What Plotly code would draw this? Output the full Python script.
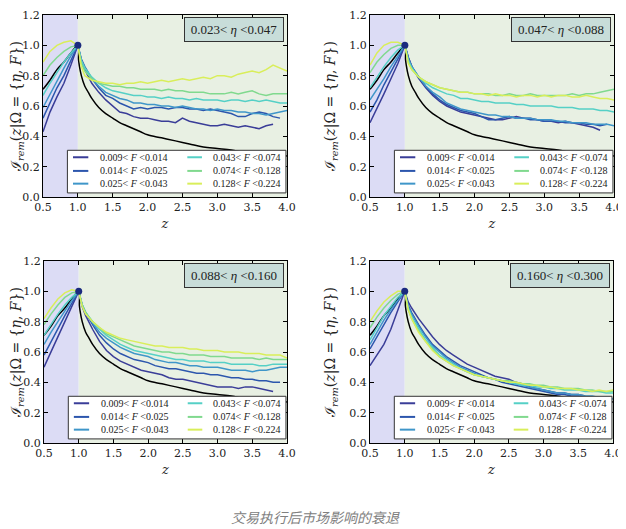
import plotly.graph_objects as go

# ---------------- data ----------------
Z = [0.5, 0.6, 0.7, 0.8, 0.9, 1.0, 1.05, 1.1, 1.2, 1.3, 1.4, 1.5, 1.6, 1.7, 1.8, 1.9,
     2.0, 2.1, 2.2, 2.3, 2.4, 2.5, 2.6, 2.7, 2.8, 2.9, 3.0, 3.1, 3.2, 3.3, 3.4, 3.5,
     3.6, 3.7, 3.8, 3.9, 4.0]

F_LABELS = ["0.009&lt; <i>F</i> &lt;0.014", "0.014&lt; <i>F</i> &lt;0.025",
            "0.025&lt; <i>F</i> &lt;0.043", "0.043&lt; <i>F</i> &lt;0.074",
            "0.074&lt; <i>F</i> &lt;0.128", "0.128&lt; <i>F</i> &lt;0.224"]
ETA_LABELS = ["0.023&lt; <i>η</i> &lt;0.047", "0.047&lt; <i>η</i> &lt;0.088",
              "0.088&lt; <i>η</i> &lt;0.160", "0.160&lt; <i>η</i> &lt;0.300"]

BLACK_Z = [0.5, 0.6, 0.7, 0.8, 0.9, 1.0, 1.01, 1.02, 1.05, 1.1, 1.15, 1.2, 1.3, 1.4, 1.5,
           1.6, 1.7, 1.8, 1.9, 2.0, 2.2, 2.4, 2.6, 2.8, 3.0, 3.2, 3.4, 3.6, 3.8, 4.0]
BLACK_I = [0.71, 0.77, 0.84, 0.89, 0.95, 1.0, 0.905, 0.87, 0.80, 0.73, 0.69, 0.65, 0.59, 0.55, 0.52,
           0.49, 0.47, 0.45, 0.43, 0.41, 0.39, 0.37, 0.35, 0.33, 0.32, 0.31, 0.29, 0.28, 0.28, 0.27]

# panel 1: 0.023 < eta < 0.047
P1_F1 = [0.43, 0.56, 0.66, 0.75, 0.87, 1.0, 0.90, 0.84, 0.75, 0.69, 0.64, 0.60, 0.56, 0.55, 0.53, 0.52,
         0.52, 0.51, 0.50, 0.50, 0.49, 0.52, 0.50, 0.49, 0.48, 0.47, 0.47, 0.48, 0.47, 0.46, 0.47, 0.46,
         0.45, 0.47, 0.48, None, None]
P1_F2 = [0.52, 0.62, 0.72, 0.80, 0.90, 1.0, 0.91, 0.86, 0.78, 0.72, 0.67, 0.65, 0.62, 0.60, 0.58, 0.59,
         0.58, 0.59, 0.59, 0.58, 0.59, 0.59, 0.58, 0.58, 0.57, 0.58, 0.57, 0.56, 0.55, 0.53, 0.53, 0.55,
         0.56, 0.55, 0.53, 0.52, None]
P1_F3 = [0.59, 0.68, 0.77, 0.85, 0.93, 1.0, 0.90, 0.85, 0.78, 0.73, 0.69, 0.67, 0.65, 0.64, 0.62, 0.62,
         0.61, 0.61, 0.60, 0.60, 0.59, 0.60, 0.59, 0.58, 0.58, 0.57, 0.58, 0.57, 0.57, 0.56, 0.56, 0.55,
         0.55, 0.54, 0.55, 0.56, 0.57]
P1_F4 = [0.67, 0.75, 0.82, 0.89, 0.95, 1.0, 0.90, 0.85, 0.79, 0.75, 0.72, 0.70, 0.69, 0.68, 0.67, 0.67,
         0.66, 0.66, 0.65, 0.66, 0.65, 0.65, 0.64, 0.65, 0.64, 0.64, 0.64, 0.63, 0.64, 0.64, 0.63, 0.64,
         0.63, 0.64, 0.63, 0.62, 0.62]
P1_F5 = [0.80, 0.87, 0.92, 0.96, 0.99, 1.0, 0.88, 0.83, 0.78, 0.75, 0.74, 0.73, 0.73, 0.72, 0.72, 0.71,
         0.71, 0.71, 0.70, 0.71, 0.70, 0.70, 0.69, 0.69, 0.69, 0.68, 0.68, 0.68, 0.69, 0.68, 0.69, 0.70,
         0.68, 0.67, 0.68, 0.68, 0.68]
P1_F6 = [0.89, 0.96, 1.00, 1.02, 1.03, 1.0, 0.86, 0.80, 0.77, 0.76, 0.75, 0.75, 0.74, 0.75, 0.75, 0.76,
         0.75, 0.76, 0.77, 0.76, 0.77, 0.78, 0.77, 0.78, 0.79, 0.78, 0.80, 0.80, 0.79, 0.81, 0.82, 0.83,
         0.82, 0.84, 0.87, 0.85, 0.83]

# panel 2: 0.047 < eta < 0.088
P2_F1 = [0.49, 0.58, 0.68, 0.78, 0.88, 1.0, 0.92, 0.86, 0.78, 0.72, 0.67, 0.63, 0.60, 0.58, 0.56, 0.55,
         0.54, 0.53, 0.52, 0.51, 0.51, 0.52, 0.53, 0.52, 0.52, 0.51, 0.50, 0.50, 0.49, 0.50, 0.49, 0.48,
         0.47, 0.46, 0.44, None, None]
P2_F2 = [0.56, 0.64, 0.74, 0.82, 0.91, 1.0, 0.92, 0.86, 0.79, 0.73, 0.68, 0.64, 0.61, 0.59, 0.57, 0.56,
         0.55, 0.53, 0.51, 0.51, 0.52, 0.53, 0.52, 0.52, 0.51, 0.51, 0.50, 0.50, 0.50, 0.49, 0.49, 0.49,
         0.48, 0.48, 0.47, 0.48, None]
P2_F3 = [0.64, 0.71, 0.78, 0.86, 0.93, 1.0, 0.91, 0.86, 0.79, 0.73, 0.69, 0.66, 0.62, 0.60, 0.58, 0.57,
         0.56, 0.55, 0.54, 0.54, 0.53, 0.53, 0.52, 0.52, 0.52, 0.51, 0.51, 0.51, 0.50, 0.50, 0.49, 0.49,
         0.49, 0.48, 0.48, 0.48, 0.47]
P2_F4 = [0.72, 0.79, 0.86, 0.92, 0.97, 1.0, 0.90, 0.85, 0.79, 0.75, 0.72, 0.70, 0.68, 0.67, 0.65, 0.65,
         0.64, 0.63, 0.63, 0.62, 0.62, 0.62, 0.61, 0.61, 0.60, 0.60, 0.60, 0.60, 0.59, 0.59, 0.59, 0.58,
         0.58, 0.58, 0.57, 0.57, 0.56]
P2_F5 = [0.82, 0.89, 0.94, 0.98, 1.00, 1.0, 0.89, 0.84, 0.79, 0.76, 0.74, 0.72, 0.71, 0.70, 0.69, 0.69,
         0.68, 0.68, 0.68, 0.67, 0.67, 0.68, 0.67, 0.67, 0.68, 0.67, 0.67, 0.67, 0.67, 0.67, 0.68, 0.67,
         0.68, 0.68, 0.69, 0.70, 0.71]
P2_F6 = [0.87, 0.95, 1.00, 1.02, 1.02, 1.0, 0.88, 0.84, 0.79, 0.76, 0.74, 0.72, 0.71, 0.70, 0.69, 0.69,
         0.68, 0.68, 0.67, 0.68, 0.67, 0.67, 0.66, 0.67, 0.67, 0.66, 0.67, 0.66, 0.67, 0.67, 0.66, 0.66,
         0.67, 0.66, 0.65, 0.65, 0.64]

# panel 3: 0.088 < eta < 0.160
P3_F1 = [0.50, 0.60, 0.70, 0.80, 0.90, 1.0, 0.90, 0.84, 0.75, 0.67, 0.61, 0.57, 0.54, 0.52, 0.50, 0.48,
         0.47, 0.46, 0.45, 0.43, 0.42, 0.42, 0.41, 0.40, 0.39, 0.38, 0.37, 0.37, 0.37, 0.36, 0.37, 0.37,
         0.36, 0.35, 0.34, None, None]
P3_F2 = [0.58, 0.67, 0.76, 0.84, 0.92, 1.0, 0.91, 0.86, 0.78, 0.71, 0.66, 0.62, 0.59, 0.57, 0.55, 0.54,
         0.53, 0.51, 0.50, 0.49, 0.49, 0.48, 0.47, 0.46, 0.46, 0.45, 0.45, 0.44, 0.43, 0.43, 0.42, 0.42,
         0.41, 0.41, 0.40, 0.40, None]
P3_F3 = [0.65, 0.73, 0.80, 0.87, 0.94, 1.0, 0.91, 0.86, 0.79, 0.73, 0.69, 0.66, 0.63, 0.61, 0.59, 0.58,
         0.57, 0.55, 0.54, 0.53, 0.53, 0.52, 0.51, 0.51, 0.50, 0.50, 0.50, 0.49, 0.48, 0.48, 0.48, 0.47,
         0.48, 0.48, 0.49, 0.50, 0.50]
P3_F4 = [0.71, 0.78, 0.85, 0.91, 0.96, 1.0, 0.91, 0.86, 0.80, 0.75, 0.71, 0.68, 0.65, 0.63, 0.61, 0.60,
         0.59, 0.58, 0.57, 0.56, 0.55, 0.55, 0.54, 0.54, 0.54, 0.53, 0.53, 0.53, 0.52, 0.52, 0.52, 0.52,
         0.51, 0.51, 0.52, 0.52, 0.52]
P3_F5 = [0.78, 0.85, 0.91, 0.96, 0.99, 1.0, 0.91, 0.86, 0.80, 0.76, 0.72, 0.70, 0.68, 0.66, 0.64, 0.63,
         0.62, 0.61, 0.60, 0.60, 0.59, 0.59, 0.58, 0.58, 0.58, 0.57, 0.57, 0.57, 0.56, 0.56, 0.56, 0.56,
         0.55, 0.56, 0.55, 0.55, 0.55]
P3_F6 = [0.82, 0.89, 0.95, 0.99, 1.01, 1.0, 0.90, 0.85, 0.80, 0.76, 0.73, 0.71, 0.69, 0.68, 0.67, 0.66,
         0.65, 0.64, 0.64, 0.63, 0.63, 0.63, 0.62, 0.62, 0.61, 0.61, 0.61, 0.60, 0.60, 0.60, 0.59, 0.59,
         0.59, 0.58, 0.58, 0.58, 0.56]

# panel 4: 0.160 < eta < 0.300
P4_F1 = [0.51, 0.58, 0.65, 0.75, 0.87, 1.0, 0.93, 0.89, 0.82, 0.76, 0.70, 0.65, 0.61, 0.58, 0.55, 0.52,
         0.50, 0.48, 0.46, 0.44, 0.43, 0.42, 0.40, 0.39, 0.37, 0.36, 0.35, 0.34, 0.33, 0.33, 0.32, 0.32,
         0.31, None, None, None, None]
P4_F2 = [0.62, 0.70, 0.78, 0.86, 0.93, 1.0, 0.91, 0.86, 0.78, 0.71, 0.65, 0.61, 0.57, 0.54, 0.51, 0.49,
         0.47, 0.45, 0.43, 0.42, 0.40, 0.39, 0.38, 0.37, 0.36, 0.35, 0.34, 0.33, 0.32, 0.32, 0.31, 0.31,
         0.30, 0.30, 0.29, None, None]
P4_F3 = [0.65, 0.73, 0.81, 0.88, 0.94, 1.0, 0.90, 0.85, 0.77, 0.70, 0.64, 0.60, 0.56, 0.53, 0.50, 0.48,
         0.46, 0.44, 0.43, 0.42, 0.41, 0.40, 0.39, 0.38, 0.37, 0.36, 0.35, 0.34, 0.33, 0.33, 0.32, 0.32,
         0.31, 0.31, 0.30, 0.30, 0.29]
P4_F4 = [0.68, 0.76, 0.84, 0.90, 0.96, 1.0, 0.89, 0.83, 0.75, 0.68, 0.63, 0.58, 0.55, 0.52, 0.49, 0.47,
         0.45, 0.44, 0.43, 0.42, 0.41, 0.40, 0.39, 0.38, 0.38, 0.37, 0.37, 0.36, 0.36, 0.35, 0.35, 0.35,
         0.34, 0.34, 0.34, 0.33, 0.33]
P4_F5 = [0.76, 0.83, 0.89, 0.94, 0.98, 1.0, 0.88, 0.82, 0.74, 0.67, 0.62, 0.57, 0.54, 0.51, 0.49, 0.47,
         0.45, 0.44, 0.43, 0.42, 0.41, 0.41, 0.40, 0.39, 0.39, 0.38, 0.38, 0.37, 0.37, 0.36, 0.36, 0.36,
         0.35, 0.35, 0.34, 0.34, 0.34]
P4_F6 = [0.80, 0.87, 0.93, 0.97, 1.00, 1.0, 0.88, 0.82, 0.73, 0.67, 0.61, 0.57, 0.54, 0.51, 0.49, 0.47,
         0.45, 0.44, 0.43, 0.42, 0.41, 0.40, 0.40, 0.39, 0.38, 0.38, 0.37, 0.37, 0.36, 0.36, 0.36, 0.35,
         0.35, 0.34, 0.35, 0.34, 0.35]

PANELS = [[P1_F1, P1_F2, P1_F3, P1_F4, P1_F5, P1_F6],
          [P2_F1, P2_F2, P2_F3, P2_F4, P2_F5, P2_F6],
          [P3_F1, P3_F2, P3_F3, P3_F4, P3_F5, P3_F6],
          [P4_F1, P4_F2, P4_F3, P4_F4, P4_F5, P4_F6]]

X_TICKS = [0.5, 1.0, 1.5, 2.0, 2.5, 3.0, 3.5, 4.0]
Y_TICKS = [0.0, 0.2, 0.4, 0.6, 0.8, 1.0, 1.2]
PEAK = [1.0, 1.0]   # (z, I) of the execution end point

CAPTION = "交易执行后市场影响的衰退"

for p in PANELS:
    for s in p:
        assert len(s) == len(Z), len(s)

# ---------------- style ----------------
COLORS = ["#3a3d98", "#2c56ad", "#3f96c9", "#55d0c6", "#80d98e", "#d9ee5a"]
PAGE = 8                      # default body margin of the html page
W, H = 626 - PAGE, 529 - PAGE
# plot-area pixel boxes in the window (left, right, top, bottom)
BOXES = [(43, 287, 15, 197), (370, 614, 15, 197), (44, 287, 261, 443), (370, 613, 261, 443)]
SERIF = "DejaVu Serif, Liberation Serif, serif"
LSERIF = "Liberation Serif, serif"

fig = go.Figure()
layout = dict(template="none", width=W, height=H,
              margin=dict(l=0, r=0, t=0, b=0, autoexpand=False),
              paper_bgcolor="white", plot_bgcolor="white", showlegend=False,
              shapes=[], annotations=[])

for k, (series, box) in enumerate(zip(PANELS, BOXES)):
    n = "" if k == 0 else str(k + 1)
    xa, ya = "x" + n, "y" + n
    l, r, t, b = (v - PAGE for v in box)
    layout["xaxis" + n] = dict(
        domain=[l / W, r / W], anchor=ya, range=[0.5, 4.0], tickvals=X_TICKS,
        tickformat=".1f", ticks="inside", ticklen=4, tickcolor="black", automargin=False,
        showline=True, linecolor="black", linewidth=1, mirror="ticks",
        showgrid=False, zeroline=False,
        tickfont=dict(family=SERIF, size=11, color="#222"),
        title=dict(text="z", font=dict(family=SERIF, size=13, color="#222", style="italic"),
                   standoff=5))
    layout["yaxis" + n] = dict(
        domain=[1 - b / H, 1 - t / H], anchor=xa, range=[0, 1.2], tickvals=Y_TICKS,
        tickformat=".1f", ticks="inside", ticklen=4, tickcolor="black", automargin=False,
        showline=True, linecolor="black", linewidth=1, mirror="ticks",
        showgrid=False, zeroline=False,
        tickfont=dict(family=SERIF, size=11, color="#222"),
        title=dict(text="ℐ<sub><i>rem</i></sub>(<i>z</i>|Ω = {<i>η</i>, <i>F</i>})",
                   font=dict(family=SERIF, size=14, color="#222"), standoff=10))

    # shaded regions: before / after end of execution
    layout["shapes"].append(dict(type="rect", xref=xa, yref=ya, x0=0.5, x1=1.0, y0=0, y1=1.2,
                                 fillcolor="#dcdcf5", line=dict(width=0), layer="below"))
    layout["shapes"].append(dict(type="rect", xref=xa, yref=ya, x0=1.0, x1=4.0, y0=0, y1=1.2,
                                 fillcolor="#e8f0e3", line=dict(width=0), layer="below"))

    # reference curve
    fig.add_trace(go.Scatter(x=BLACK_Z, y=BLACK_I, xaxis=xa, yaxis=ya, mode="lines",
                             line=dict(color="black", width=1.5, shape="spline"),
                             hoverinfo="skip"))
    for i, s in enumerate(series):
        fig.add_trace(go.Scatter(x=Z, y=s, xaxis=xa, yaxis=ya, mode="lines", name=F_LABELS[i],
                                 line=dict(color=COLORS[i], width=1.5)))
    fig.add_trace(go.Scatter(x=[PEAK[0]], y=[PEAK[1]], xaxis=xa, yaxis=ya, mode="markers",
                             marker=dict(color="#1b2a7e", size=7), hoverinfo="skip"))

    # legend box (drawn in axis coordinates)
    layout["shapes"].append(dict(type="rect", xref=xa, yref=ya, x0=0.85, x1=3.985, y0=0.027, y1=0.308,
                                 fillcolor="white", line=dict(color="#333", width=1), layer="above"))
    rows = [0.262, 0.172, 0.088]
    for i in range(6):
        col, row = divmod(i, 3)
        x0, x1, xt = (0.93, 1.15, 1.29) if col == 0 else (2.57, 2.78, 2.91)
        layout["shapes"].append(dict(type="line", xref=xa, yref=ya, x0=x0, x1=x1,
                                     y0=rows[row], y1=rows[row],
                                     line=dict(color=COLORS[i], width=2), layer="above"))
        layout["annotations"].append(dict(xref=xa, yref=ya, x=xt, y=rows[row], text=F_LABELS[i],
                                          showarrow=False, xanchor="left", yanchor="middle",
                                          font=dict(family=LSERIF, size=10, color="#222")))
    # eta box
    layout["annotations"].append(dict(xref=xa, yref=ya, x=3.235, y=1.102, text=ETA_LABELS[k],
                                      showarrow=False, xanchor="center", yanchor="middle",
                                      width=92, height=17, borderpad=3, borderwidth=1,
                                      bordercolor="#333", bgcolor="#c8ddd9",
                                      font=dict(family=LSERIF, size=13, color="#222")))

layout["annotations"].append(dict(xref="paper", yref="paper", x=(315 - PAGE) / W,
                                  y=1 - (517 - PAGE) / H,
                                  text="<i>" + CAPTION + "</i>", showarrow=False,
                                  xanchor="center", yanchor="middle",
                                  font=dict(family="Noto Sans CJK SC", size=14, color="#808080")))

fig.update_layout(**layout)
fig.write_html("out.html")
